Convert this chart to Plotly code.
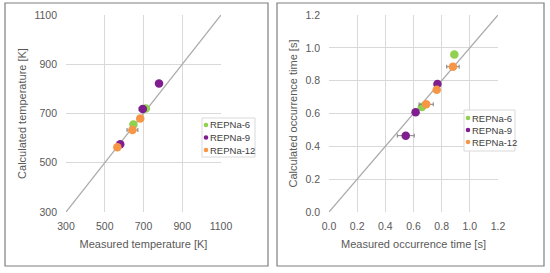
import plotly.graph_objects as go

W, H = 550, 273

# ---- Data: temperature (left panel) ----
t6_meas = [712, 648]
t6_calc = [720, 655]
t6_err = [0, 0]
t9_meas = [780, 696, 580]
t9_calc = [822, 718, 575]
t9_err = [0, 18, 0]
t12_meas = [683, 643, 565]
t12_calc = [680, 633, 563]
t12_err = [0, 28, 0]

# ---- Data: occurrence time (right panel) ----
s6_meas = [0.89, 0.66]
s6_calc = [0.96, 0.64]
s6_err = [0, 0]
s9_meas = [0.77, 0.615, 0.545]
s9_calc = [0.78, 0.607, 0.465]
s9_err = [0.015, 0, 0.06]
s12_meas = [0.88, 0.765, 0.69]
s12_calc = [0.885, 0.745, 0.656]
s12_err = [0.044, 0, 0.05]

names = ["REPNa-6", "REPNa-9", "REPNa-12"]
colors = ["#92D050", "#7F1F8F", "#F79646"]

temp_ticks = [300, 500, 700, 900, 1100]
time_ticks = [0.0, 0.2, 0.4, 0.6, 0.8, 1.0, 1.2]

fig = go.Figure()

# diagonal lines
fig.add_trace(go.Scatter(x=[300, 1100], y=[300, 1100], mode="lines",
                         line=dict(color="#ABABAB", width=1.3),
                         showlegend=False, xaxis="x", yaxis="y", hoverinfo="skip"))
fig.add_trace(go.Scatter(x=[0, 1.2], y=[0, 1.2], mode="lines",
                         line=dict(color="#ABABAB", width=1.3),
                         showlegend=False, xaxis="x2", yaxis="y2", hoverinfo="skip"))

left = [(t6_meas, t6_calc, t6_err), (t9_meas, t9_calc, t9_err), (t12_meas, t12_calc, t12_err)]
right = [(s6_meas, s6_calc, s6_err), (s9_meas, s9_calc, s9_err), (s12_meas, s12_calc, s12_err)]

for (xm, yc, er), nm, c in zip(left, names, colors):
    fig.add_trace(go.Scatter(x=xm, y=yc, mode="markers", name=nm,
                             marker=dict(color=c, size=8.5),
                             error_x=dict(type="data", array=er, visible=True,
                                          color="#808080", thickness=1, width=2),
                             xaxis="x", yaxis="y", showlegend=False))
for (xm, yc, er), nm, c in zip(right, names, colors):
    fig.add_trace(go.Scatter(x=xm, y=yc, mode="markers", name=nm,
                             marker=dict(color=c, size=8.5),
                             error_x=dict(type="data", array=er, visible=True,
                                          color="#808080", thickness=1, width=2),
                             xaxis="x2", yaxis="y2", showlegend=False))

font = "Liberation Sans, Arial, sans-serif"
tickfont = dict(family=font, size=10.5, color="#595959")
titlefont = dict(family=font, size=11, color="#595959")
grid = "#D9D9D9"

ydom = [1 - 212 / H, 1 - 15 / H]

common = dict(showgrid=True, gridcolor=grid, gridwidth=1, zeroline=False,
              showline=False, ticks="", tickfont=tickfont, automargin=False)

fig.update_layout(
    width=W, height=H, margin=dict(l=0, r=0, t=0, b=0),
    paper_bgcolor="white", plot_bgcolor="white", showlegend=False,
    xaxis=dict(domain=[66 / W, 221 / W], range=[300, 1100], tickvals=temp_ticks,
               ticklabelstandoff=6,
               title=dict(text="Measured temperature [K]", font=titlefont, standoff=9),
               anchor="y", **common),
    yaxis=dict(domain=ydom, range=[300, 1100], tickvals=temp_ticks,
               ticklabelstandoff=8,
               title=dict(text="Calculated temperature [K]", font=titlefont, standoff=5),
               anchor="x", **common),
    xaxis2=dict(domain=[329 / W, 498 / W], range=[0, 1.2], tickvals=time_ticks,
                tickformat=".1f", ticklabelstandoff=6,
                title=dict(text="Measured occurrence time [s]", font=titlefont, standoff=9),
                anchor="y2", **common),
    yaxis2=dict(domain=ydom, range=[0, 1.2], tickvals=time_ticks, tickformat=".1f",
                ticklabelstandoff=8,
                title=dict(text="Calculated occurrence time [s]", font=titlefont, standoff=5),
                anchor="x2", **common),
)

shapes = [
    dict(type="rect", xref="paper", yref="paper",
         x0=5 / W, x1=268 / W, y0=1 - 266 / H, y1=1 - 3 / H,
         line=dict(color="#7F7F7F", width=1.2)),
    dict(type="rect", xref="paper", yref="paper",
         x0=277 / W, x1=544 / W, y0=1 - 266 / H, y1=1 - 3 / H,
         line=dict(color="#7F7F7F", width=1.2)),
]
annotations = []

# custom compact legends (box, swatches, labels) in pixel layout
legends = [
    dict(box=(202, 118, 255, 157), rows=[125, 137.5, 150], mx=206),
    dict(box=(464, 110, 515, 151), rows=[118, 130, 142], mx=468),
]
for lg in legends:
    bx0, by0, bx1, by1 = lg["box"]
    shapes.append(dict(type="rect", xref="paper", yref="paper",
                       x0=bx0 / W, x1=bx1 / W, y0=1 - by1 / H, y1=1 - by0 / H,
                       fillcolor="white", line=dict(color="#D9D9D9", width=1), layer="above"))
    for ry, nm, c in zip(lg["rows"], names, colors):
        r = 2.3
        shapes.append(dict(type="circle", xref="paper", yref="paper",
                           x0=(lg["mx"] - r) / W, x1=(lg["mx"] + r) / W,
                           y0=1 - (ry + r) / H, y1=1 - (ry - r) / H,
                           fillcolor=c, line=dict(color=c, width=0), layer="above"))
        annotations.append(dict(xref="paper", yref="paper", x=(lg["mx"] + 1.5) / W,
                                y=1 - ry / H, xanchor="left", yanchor="middle",
                                text=nm, showarrow=False,
                                font=dict(family=font, size=9.5, color="#404040")))

fig.update_layout(shapes=shapes, annotations=annotations)

fig.write_html("out.html")
